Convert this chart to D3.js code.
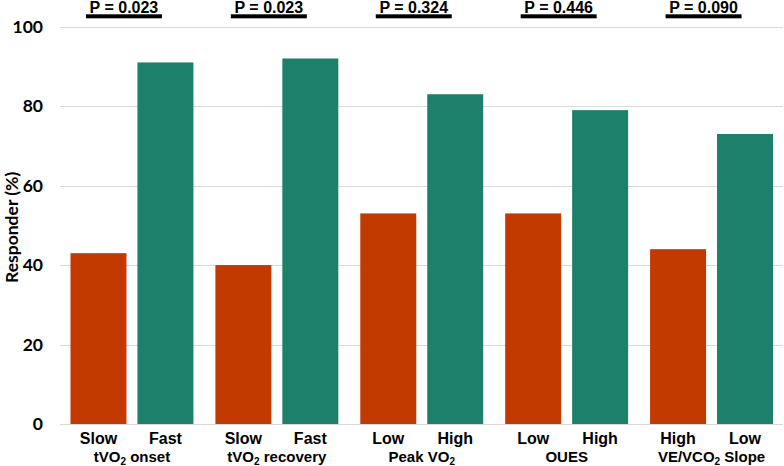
<!DOCTYPE html>
<html>
<head>
<meta charset="utf-8">
<script src="https://cdn.jsdelivr.net/npm/d3@7"></script>
<style>
  body { margin: 0; background: #fff; }
  svg { display: block; }
</style>
</head>
<body>
<div id="chart"></div>
<script>
const width = 784, height = 466;

// data
const groups = ["tVO_2 onset", "tVO_2 recovery", "Peak VO_2", "OUES", "VE/VCO_2 Slope"];
const firstLabels = ["Slow", "Slow", "Low", "Low", "High"];
const secondLabels = ["Fast", "Fast", "High", "High", "Low"];
const firstValues = [43, 40, 53, 53, 44];
const secondValues = [91, 92, 83, 79, 73];
const pValues = ["0.023", "0.023", "0.324", "0.446", "0.090"];
const yTicks = [0, 20, 40, 60, 80, 100];

const colors = ["#c23a00", "#1c806a"];

const rows = groups.map((g, i) => ({
  group: g,
  p: pValues[i],
  bars: [
    {label: firstLabels[i], value: firstValues[i], k: 0},
    {label: secondLabels[i], value: secondValues[i], k: 1}
  ]
}));

const svg = d3.select("#chart").append("svg")
  .attr("width", width)
  .attr("height", height)
  .attr("viewBox", [0, 0, width, height]);

const x0 = d3.scaleBand()
  .domain(groups)
  .range([59.5, 784])
  .padding(0);

const x1 = d3.scaleBand()
  .domain([0, 1])
  .range([0, x0.bandwidth()])
  .paddingInner(0.164)
  .paddingOuter(0.164);

const y = d3.scaleLinear()
  .domain([0, 100])
  .range([424, 26.7]);

// gridlines
svg.append("g")
  .selectAll("line")
  .data(yTicks)
  .join("line")
  .attr("x1", 60)
  .attr("x2", 783)
  .attr("y1", d => Math.round(y(d)) + 0.5)
  .attr("y2", d => Math.round(y(d)) + 0.5)
  .attr("stroke", "#d9d9d9")
  .attr("stroke-width", 1);

// y tick labels
const yAxis = svg.append("g")
  .attr("transform", "translate(50,0)")
  .call(d3.axisLeft(y).tickValues(yTicks).tickSize(0).tickPadding(7));
yAxis.select(".domain").remove();
yAxis.selectAll("text")
  .attr("font-family", "Lato, 'Open Sans', sans-serif")
  .attr("font-weight", 700)
  .attr("font-size", 17.5)
  .attr("fill", "#000");

svg.append("text")
  .attr("transform", `translate(17.5,${(y(0) + y(100)) / 2 + 2}) rotate(-90)`)
  .attr("text-anchor", "middle")
  .attr("font-family", "Lato, 'Open Sans', sans-serif")
  .attr("font-weight", 700)
  .attr("font-size", 17.5)
  .text("Responder (%)");

// bars
const g = svg.append("g")
  .selectAll("g")
  .data(rows)
  .join("g")
  .attr("transform", d => `translate(${x0(d.group)},0)`);

g.selectAll("rect")
  .data(d => d.bars)
  .join("rect")
  .attr("x", d => x1(d.k))
  .attr("width", x1.bandwidth())
  .attr("y", d => y(d.value))
  .attr("height", d => y(0) - y(d.value))
  .attr("fill", d => colors[d.k]);

// category labels
g.selectAll("text.cat")
  .data(d => d.bars)
  .join("text")
  .attr("class", "cat")
  .attr("x", d => x1(d.k) + x1.bandwidth() / 2)
  .attr("y", 444)
  .attr("text-anchor", "middle")
  .attr("font-family", "'Liberation Sans', Arial, sans-serif")
  .attr("font-weight", 700)
  .attr("font-size", 16)
  .text(d => d.label);

// group labels with subscript 2
const gl = g.append("text")
  .attr("x", x0.bandwidth() / 2)
  .attr("y", 462)
  .attr("text-anchor", "middle")
  .attr("font-family", "'Liberation Sans', Arial, sans-serif")
  .attr("font-weight", 700)
  .attr("font-size", 15);

gl.each(function(d) {
  const el = d3.select(this);
  const parts = d.group.split("_2");
  parts.forEach((p, i) => {
    if (i > 0) {
      el.append("tspan").attr("font-size", 10).attr("dy", 3).text("2");
      el.append("tspan").attr("dy", -3).text(p);
    } else {
      el.append("tspan").text(p);
    }
  });
});

// p-value labels with thick underline
const pNudge = -8;
g.append("text")
  .attr("x", x0.bandwidth() / 2 + pNudge)
  .attr("y", 12.5)
  .attr("text-anchor", "middle")
  .attr("font-family", "'Liberation Sans', Arial, sans-serif")
  .attr("font-weight", 700)
  .attr("font-size", 16)
  .text(d => "P = " + d.p);

g.append("rect")
  .attr("x", x0.bandwidth() / 2 + pNudge - 38)
  .attr("y", 14.3)
  .attr("width", 76)
  .attr("height", 4)
  .attr("fill", "#000");
</script>
</body>
</html>
